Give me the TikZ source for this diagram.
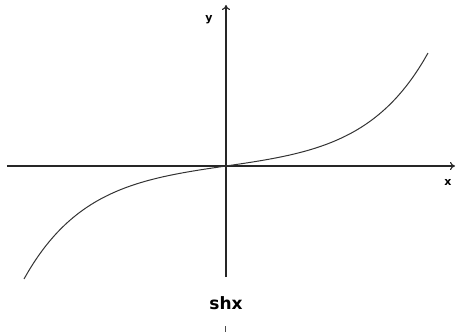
\documentclass[tikz,border=0pt]{standalone}
\usepackage{fontspec}
\newfontfamily\lblfont{DejaVu Sans}
\usetikzlibrary{arrows.meta, positioning, calc}
\tikzset{
  axis/.style    = {-{To[length=5pt, width=8pt]}, line width=1.1pt, black!85},
  curve/.style   = {line width=1pt, black!80, smooth},
  lbl/.style     = {font=\lblfont\bfseries\fontsize{11}{11}\selectfont, inner sep=0pt},
  funcname/.style = {font=\lblfont\bfseries\fontsize{17}{17}\selectfont, inner sep=0pt}
}

\begin{document}
\begin{tikzpicture}[x=1pt, y=1pt]

  % ── frame (458 x 332) ─────────────────────────────────────────────────────
  \useasboundingbox (-226,-166) rectangle (232,166);

  % ── axis ends ─────────────────────────────────────────────────────────────
  \coordinate (O)    at (0,0);
  \coordinate (Xmin) at (-219,0);
  \coordinate (Xmax) at (229,0);
  \coordinate (Ymin) at (0,-111);
  \coordinate (Ymax) at (0,161);

  % ── axes ──────────────────────────────────────────────────────────────────
  \draw[axis] (Xmin) -- (Xmax);
  \draw[axis] (Ymin) -- (Ymax);

  % ── axis labels ───────────────────────────────────────────────────────────
  \node[lbl] (ylab) at (-17,146) {y};
  \node[lbl] (xlab) at (222,-16) {x};

  % ── hyperbolic sine ───────────────────────────────────────────────────────
  \draw[curve] plot[domain=-3.2:3.2, samples=80]
        ({202*\x/3.2}, {113*sinh(\x)/12.246});

  % ── caption ───────────────────────────────────────────────────────────────
  \node[funcname] (cap) at (0,-137) {shx};
  \coordinate (stub) at (0,-160);
  \draw[line width=1pt, black!70] (stub) -- (0,-166);

\end{tikzpicture}
\end{document}
